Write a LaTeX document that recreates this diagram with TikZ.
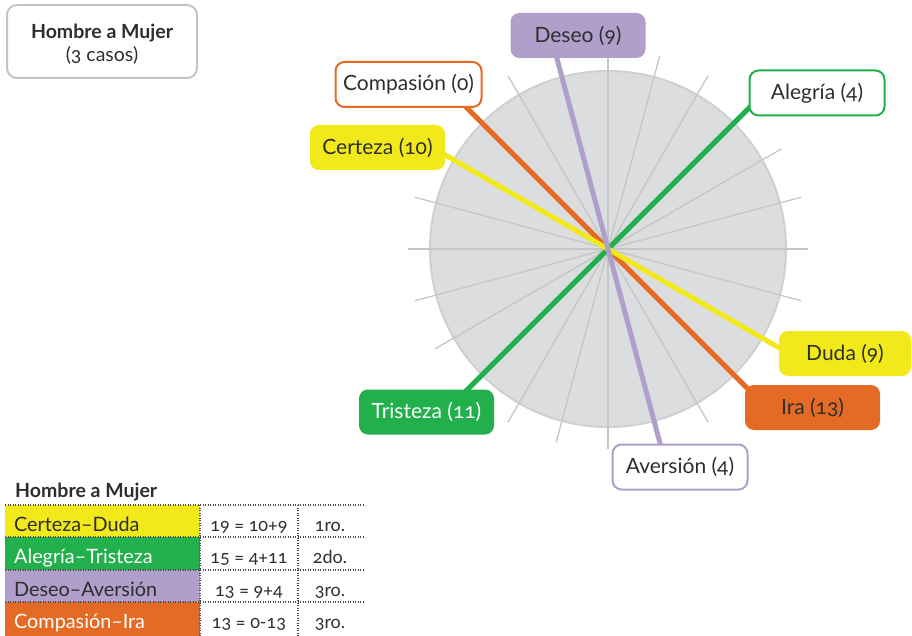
\documentclass[tikz,border=0pt]{standalone}
\usepackage{fontspec}
\usetikzlibrary{calc}
\setmainfont{Lato}[Numbers=OldStyle]
\definecolor{cyel}{HTML}{F2E91A}
\definecolor{cgrn}{HTML}{21B04B}
\definecolor{clav}{HTML}{B09FCA}
\definecolor{cora}{HTML}{E36B25}
\definecolor{ctxt}{HTML}{2E2E2E}
\definecolor{cdisc}{HTML}{DCDDDF}
\definecolor{cdiscb}{HTML}{D0D0D2}
\definecolor{cspoke}{HTML}{C6C6C8}
\definecolor{cgbox}{HTML}{C4C4C4}
\begin{document}
\begin{tikzpicture}[x=1pt,y=1pt,
  lbl/.style={rounded corners=9pt, line width=2pt, minimum width=135pt, minimum height=45pt,
    inner sep=0pt, text=ctxt, font=\fontsize{21}{24}\selectfont},
  spoke/.style={cspoke, line width=1.3pt},
  ray/.style={line width=5pt},
  dots/.style={ctxt!85, line width=1.1pt, dash pattern=on 1pt off 1.5pt},
  cell/.style={anchor=base west, inner sep=0pt, font=\fontsize{19.8}{23}\selectfont},
  num/.style={anchor=base, inner sep=0pt, text=ctxt, font=\fontsize{18}{21}\selectfont}
]
\useasboundingbox (0,0) rectangle (912,-636);
% wheel
\coordinate (c) at (608,-249);
\fill[cdisc, draw=cdiscb, line width=2pt] (c) circle (178);
\foreach \a in {0,15,...,345} \draw[spoke] (c) -- ++(\a:200);
% rays
\coordinate (pDes) at ($(c)+(105:210)$);
\coordinate (pAve) at ($(c)+(285:210)$);
\coordinate (pCom) at ($(c)+(135:210)$);
\coordinate (pIra) at ($(c)+(315:210)$);
\coordinate (pCer) at ($(c)+(150:210)$);
\coordinate (pDud) at ($(c)+(330:210)$);
\coordinate (pAle) at ($(c)+(45:210)$);
\coordinate (pTri) at ($(c)+(225:210)$);
\draw[ray, cgrn] (pAle) -- (c) -- (pTri);
\draw[ray, cora] (pCom) -- (c) -- (pIra);
\draw[ray, cyel] (pCer) -- (c) -- (pDud);
\draw[ray, clav] (pDes) -- (c) -- (pAve);
% label boxes
\node[lbl, fill=clav] (des) at (578,-35.5) {Deseo (9)};
\node[lbl, fill=white, draw=cora, minimum width=146pt] (com) at (408.5,-84.5) {Compasión (0)};
\node[lbl, fill=cyel] (cer) at (377.5,-147.5) {Certeza (10)};
\node[lbl, fill=white, draw=cgrn] (ale) at (817,-93) {Alegría (4)};
\node[lbl, fill=cyel, minimum width=132pt] (dud) at (845,-353.5) {Duda (9)};
\node[lbl, fill=cora] (ira) at (812.5,-407.5) {Ira (13)};
\node[lbl, fill=cgrn, text=white] (tri) at (426.5,-412) {Tristeza (11)};
\node[lbl, fill=white, draw=clav] (ave) at (680,-467) {Aversión (4)};
% title box
\draw[rounded corners=10pt, draw=cgbox, line width=2pt, fill=white] (7,-5) rectangle (197,-78);
\node[align=center, text=ctxt, inner sep=0pt, font=\fontsize{19.5}{23}\selectfont] (hm) at (102,-44.5)
  {\textbf{Hombre a Mujer}\\(3 casos)};
% table
\node[anchor=base west, inner sep=0pt, text=ctxt, font=\fontsize{19.5}{23}\selectfont\bfseries] (tt) at (15,-497) {Hombre a Mujer};
\fill[cyel] (5,-505) rectangle (200,-537);
\fill[cgrn] (5,-537) rectangle (200,-570);
\fill[clav] (5,-570) rectangle (200,-602);
\fill[cora] (5,-602) rectangle (200,-636);
\foreach \y in {505,537,570,602} \draw[dots] (5,-\y) -- (363,-\y);
\foreach \x in {200,298} \draw[dots] (\x,-505) -- (\x,-636);
\node[cell, text=ctxt] (r1) at (14,-531) {Certeza–Duda};
\node[cell, text=white] (r2) at (14,-563.5) {Alegría–Tristeza};
\node[cell, text=ctxt] (r3) at (14,-596) {Deseo–Aversión};
\node[cell, text=white] (r4) at (14,-628) {Compasión–Ira};
\node[num] (n1) at (249,-531) {19 = 10+9};
\node[num] (n2) at (249,-563.5) {15 = 4+11};
\node[num] (n3) at (249,-596) {13 = 9+4};
\node[num] (n4) at (249,-628) {13 = 0-13};
\node[num] (k1) at (330,-531) {1ro.};
\node[num] (k2) at (330,-563.5) {2do.};
\node[num] (k3) at (330,-596) {3ro.};
\node[num] (k4) at (330,-628) {3ro.};
\end{tikzpicture}
\end{document}
